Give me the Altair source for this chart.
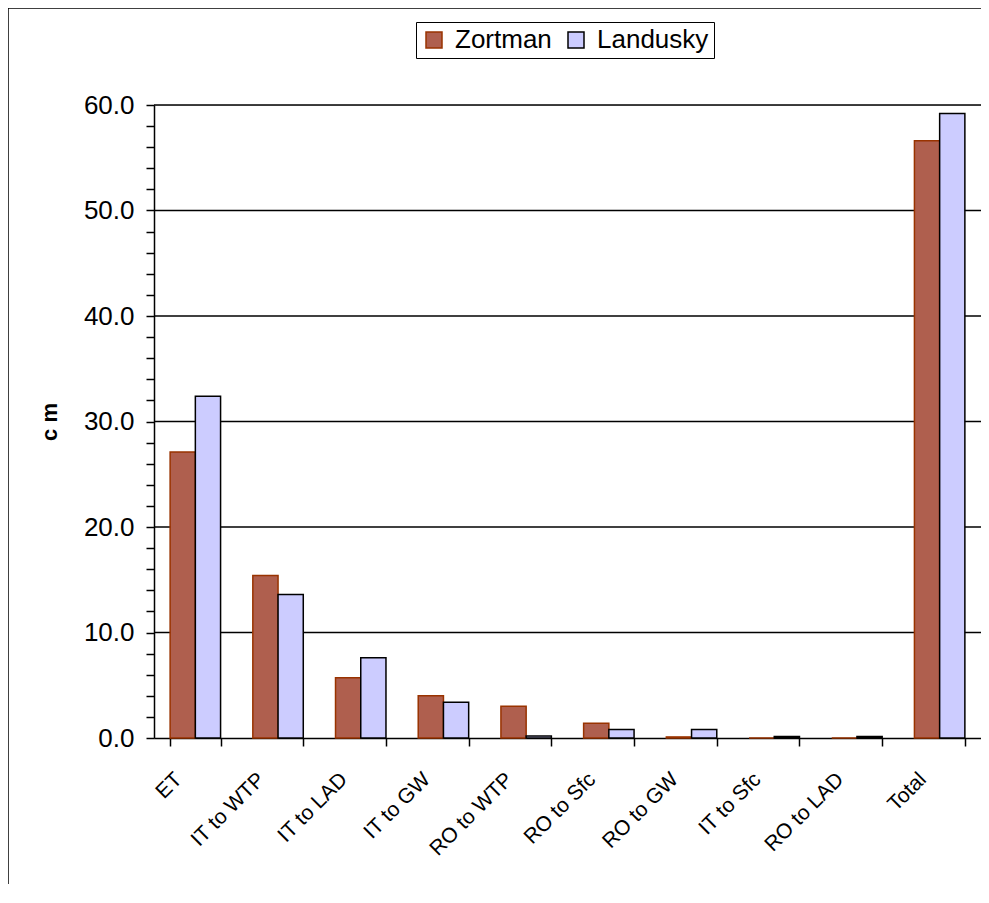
import altair as alt
import pandas as pd

categories = ["ET", "IT to WTP", "IT to LAD", "IT to GW", "RO to WTP",
              "RO to Sfc", "RO to GW", "IT to Sfc", "RO to LAD", "Total"]
zortman = [27.1, 15.4, 5.7, 4.0, 3.0, 1.4, 0.1, 0.0, 0.0, 56.6]
landusky = [32.4, 13.6, 7.6, 3.4, 0.2, 0.8, 0.8, 0.15, 0.15, 59.2]
series = ["Zortman", "Landusky"]
grid_values = [10, 20, 30, 40, 50, 60]
tick_values = list(range(0, 61, 2))

rows = []
for i, c in enumerate(categories):
    rows.append({"cat": c, "series": "Zortman", "value": zortman[i]})
    rows.append({"cat": c, "series": "Landusky", "value": landusky[i]})
df = pd.DataFrame(rows)

FONT = "Arial, Liberation Sans"
W, H = 827, 633

x_enc = alt.X("cat:N", sort=categories,
              scale=alt.Scale(paddingInner=0.39, paddingOuter=0.195),
              axis=alt.Axis(title=None, labelAngle=-45, labelAlign="right",
                            labelBaseline="middle", labelFontSize=21,
                            labelFont=FONT, labelColor="black",
                            labelPadding=30, labelOffset=-17,
                            labelOverlap=False,
                            tickBand="extent", tickSize=8, tickColor="black",
                            tickWidth=1.5, domainColor="black", domainWidth=1.5,
                            grid=False))
y_scale = alt.Scale(domain=[0, 60], nice=False)
y_axis = alt.Axis(title="c m", titleFont=FONT, titleFontSize=22,
                  titleFontWeight="bold", titleColor="black",
                  titlePadding=22, values=tick_values,
                  labelExpr="datum.value % 10 === 0 ? format(datum.value, '.1f') : ''",
                  labelOverlap=False,
                  labelFont=FONT, labelFontSize=26, labelColor="black",
                  labelPadding=12, tickSize=8, tickColor="black",
                  tickWidth=1.5, domainColor="black", domainWidth=1.5,
                  grid=False)

legend = alt.Legend(title=None, orient="none", legendX=262, legendY=-83,
                    direction="horizontal",
                    strokeColor="black", fillColor="white", padding=5,
                    labelFont=FONT, labelFontSize=26, labelColor="black",
                    symbolType="square", symbolSize=256, symbolStrokeWidth=1.5,
                    symbolOpacity=1, columnPadding=11, labelOffset=8)

bars = alt.Chart(df).mark_bar(strokeWidth=1.5).encode(
    x=x_enc,
    xOffset=alt.XOffset("series:N", sort=series, scale=alt.Scale(paddingInner=0, paddingOuter=0)),
    y=alt.Y("value:Q", scale=y_scale, axis=y_axis),
    fill=alt.Fill("series:N", sort=series,
                  scale=alt.Scale(domain=series, range=["#AF5F4E", "#CCCCFF"]),
                  legend=legend),
    stroke=alt.Stroke("series:N", sort=series,
                      scale=alt.Scale(domain=series, range=["#993300", "#000000"]),
                      legend=legend),
)

grid = alt.Chart(pd.DataFrame({"g": grid_values})).mark_rule(
    color="black", strokeWidth=1.5).encode(y=alt.Y("g:Q", scale=y_scale, axis=y_axis))

frame_top = alt.Chart(pd.DataFrame({"a": [0]})).mark_rule(
    color="black", strokeWidth=1.5).encode(
    x=alt.value(-146), x2=alt.value(900), y=alt.value(-97))
frame_left = alt.Chart(pd.DataFrame({"a": [0]})).mark_rule(
    color="black", strokeWidth=1.5).encode(
    x=alt.value(-146), y=alt.value(-97), y2=alt.value(900))

chart = alt.layer(grid, bars, frame_top, frame_left).properties(
    width=W, height=H,
    autosize=alt.AutoSizeParams(type="none"),
    padding={"left": 146, "top": 97, "right": 0, "bottom": 146},
).configure_view(
    fill="#FFFFCC", stroke="#808080", strokeWidth=1.5
).configure(background="white")

chart.save("out.html", embed_options={"renderer": "svg", "actions": False})
